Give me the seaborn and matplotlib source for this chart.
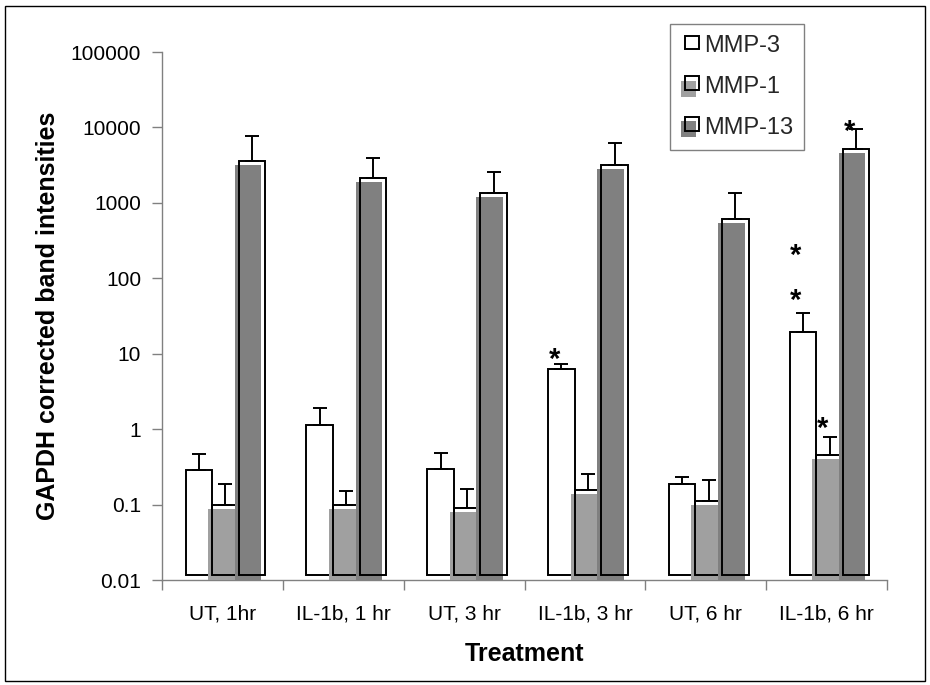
import numpy as np
import pandas as pd
import matplotlib
matplotlib.use("Agg")
import matplotlib.pyplot as plt
import seaborn as sns
from matplotlib.patches import Rectangle, Patch
from matplotlib.legend_handler import HandlerBase
from matplotlib.ticker import NullLocator

# ---------------- data ----------------
treatments = ["UT, 1hr", "IL-1b, 1 hr", "UT, 3 hr", "IL-1b, 3 hr", "UT, 6 hr", "IL-1b, 6 hr"]
genes = ["MMP-3", "MMP-1", "MMP-13"]
mmp3 = [0.29, 1.15, 0.30, 6.2, 0.19, 19.5]
mmp3_err = [0.18, 0.75, 0.19, 1.0, 0.04, 15.5]
mmp1 = [0.10, 0.10, 0.09, 0.155, 0.11, 0.46]
mmp1_err = [0.09, 0.05, 0.07, 0.10, 0.10, 0.32]
mmp13 = [3550, 2150, 1350, 3150, 620, 5250]
mmp13_err = [4250, 1800, 1230, 3050, 730, 4150]
ytick_vals = [0.01, 0.1, 1, 10, 100, 1000, 10000, 100000]
ytick_labels = ["0.01", "0.1", "1", "10", "100", "1000", "10000", "100000"]
# significance markers
star_treat = [3, 5, 5, 5]
star_gene = [0, 0, 1, 2]
star_count = [1, 2, 1, 1]

colors = ["#ffffff", "#a0a0a0", "#808080"]
values = [mmp3, mmp1, mmp13]
errors = [mmp3_err, mmp1_err, mmp13_err]

rows = []
for g, vals in zip(genes, values):
    for t, v in zip(treatments, vals):
        rows.append({"treatment": t, "gene": g, "value": v})
df = pd.DataFrame(rows)

# ---------------- style ----------------
sns.set_theme(style="white")
plt.rcParams["font.family"] = ["Liberation Sans", "DejaVu Sans"]

W, H = 930, 685
fig = plt.figure(figsize=(W / 100, H / 100), dpi=100)
ax_l, ax_r, ax_t, ax_b = 162, 887, 52, 580
ax = fig.add_axes([ax_l / W, 1 - ax_b / H, (ax_r - ax_l) / W, (ax_b - ax_t) / H])
ax.set_yscale("log")

common = dict(data=df, x="treatment", y="value", hue="gene", order=treatments,
              hue_order=genes, width=0.66, errorbar=None, legend=False, ax=ax)
sns.barplot(palette=colors, saturation=1, linewidth=0, edgecolor="none", **common)
sns.barplot(palette=["black"] * 3, fill=False, linewidth=1.4, **common)

x_per_px = 6.0 / (ax_r - ax_l)
dec_per_px = 7.0 / (ax_b - ax_t)
shift = 0.025
base = 0.01 * 10 ** (5 * dec_per_px)
for i in range(3):
    for p in ax.containers[i]:
        top = p.get_y() + p.get_height()
        newtop = top * 10 ** (-4 * dec_per_px)
        p.set_x(p.get_x() + shift - 4 * x_per_px)
        p.set_y(1e-3)
        p.set_height(newtop - 1e-3)
        p.set_zorder(2 + 2 * i)
    for p in ax.containers[3 + i]:
        top = p.get_y() + p.get_height()
        p.set_x(p.get_x() + shift)
        p.set_y(base)
        p.set_height(top - base)
        p.set_zorder(3 + 2 * i)

for i in range(3):
    xs = [p.get_x() + p.get_width() / 2 for p in ax.containers[3 + i]]
    ax.errorbar(xs, values[i], yerr=[np.zeros(len(xs)), errors[i]], fmt="none",
                ecolor="black", elinewidth=1.4, capsize=5, capthick=1.4, zorder=10)

# stars
star_first_px = [14, 21, 17, 7]
star_step_px = 45
fs_star = 21
star_px = fs_star * 100 / 72
for t, g, n, off in zip(star_treat, star_gene, star_count, star_first_px):
    p = ax.containers[3 + g][t]
    x = p.get_x() + p.get_width() / 2
    cap = values[g][t] + errors[g][t]
    for k in range(n):
        center_px = off + k * star_step_px
        baseline_px = center_px - 0.585 * star_px
        ax.annotate("*", xy=(x, cap), xytext=(-7 * 0.72, baseline_px * 0.72),
                    textcoords="offset points", ha="center", va="baseline",
                    fontsize=fs_star, fontweight="bold", color="black", zorder=12)

# axes
for s in ["top", "right"]:
    ax.spines[s].set_visible(False)
for s in ["left", "bottom"]:
    ax.spines[s].set_color("#808080")
    ax.spines[s].set_linewidth(1.0)
ax.set_ylim(0.01, 100000)
ax.set_xlim(-0.5, 5.5)
ax.set_yticks(ytick_vals)
ax.set_yticklabels(ytick_labels)
ax.yaxis.set_minor_locator(NullLocator())
ax.tick_params(axis="y", which="major", direction="out", length=7, width=1,
               color="#808080", labelsize=15, pad=8, left=True, labelcolor="black")
ax.set_xticks(range(len(treatments)))
ax.set_xticklabels(treatments)
ax.set_xticks(np.arange(-0.5, len(treatments), 1), minor=True)
ax.tick_params(axis="x", which="major", length=0, labelsize=15, pad=18, labelcolor="black")
ax.tick_params(axis="x", which="minor", direction="out", length=7, width=1,
               color="#808080", bottom=True)

ax.set_xlabel("Treatment", fontsize=18, fontweight="bold", color="black")
ax.set_ylabel("GAPDH corrected band intensities", fontsize=18, fontweight="bold", color="black")
ax.xaxis.set_label_coords(0.5, -0.118)
ax.yaxis.set_label_coords(-0.14, 0.5)


class ShadowHandler(HandlerBase):
    def create_artists(self, legend, orig_handle, xdescent, ydescent, width, height,
                       fontsize, trans):
        s = min(width, height) * 0.8
        x0 = -xdescent + (width - s)
        y0 = -ydescent + (height - s) * 0.9
        fill = Rectangle((x0 - 0.3 * s, y0 - 0.45 * s), s * 1.1, s * 1.15,
                         facecolor=orig_handle.get_facecolor(), edgecolor="none",
                         transform=trans)
        edge = Rectangle((x0, y0), s, s, facecolor="none", edgecolor="black",
                         linewidth=1.4, transform=trans)
        return [fill, edge]


handles = [Patch(facecolor=c, edgecolor="black") for c in colors]
leg = ax.legend(handles, genes, handler_map={Patch: ShadowHandler()},
                loc="upper right", bbox_to_anchor=(804 / W, 1 - 24 / H),
                bbox_transform=fig.transFigure, fontsize=17, frameon=True,
                fancybox=False, edgecolor="#808080", framealpha=1,
                borderpad=0.47, labelspacing=0.8, handlelength=0.75,
                handleheight=0.75, handletextpad=0.2, borderaxespad=0)
leg.get_frame().set_linewidth(1.0)

# outer figure border
fig.patches.append(Rectangle((5 / W, 4 / H), (925 - 5) / W, (681 - 6) / H,
                             transform=fig.transFigure, fill=False,
                             edgecolor="black", linewidth=1.0))

fig.savefig("out.png", dpi=100, facecolor="white")
